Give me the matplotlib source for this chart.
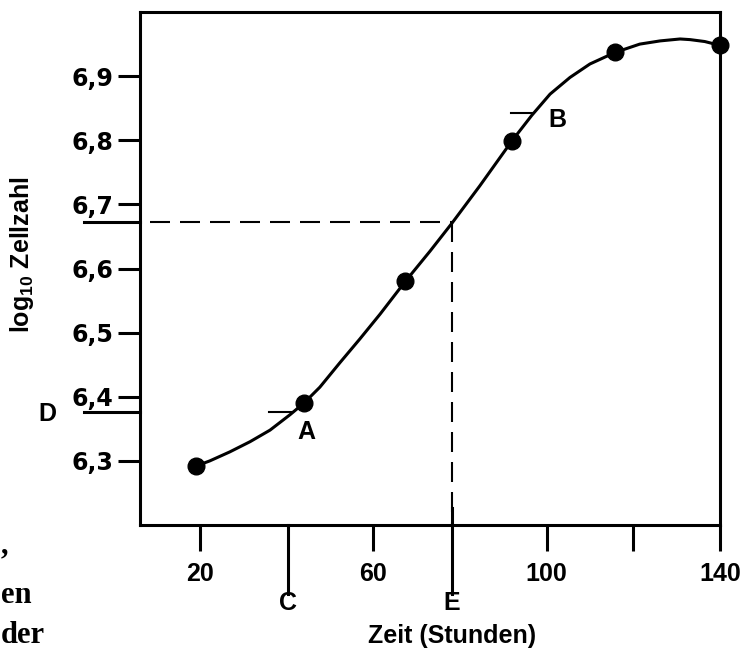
import matplotlib
matplotlib.use('Agg')
import matplotlib.pyplot as plt

plt.rcParams['font.family'] = ['Liberation Sans', 'DejaVu Sans']
plt.rcParams['font.weight'] = 'bold'
plt.rcParams['mathtext.fontset'] = 'custom'
plt.rcParams['mathtext.rm'] = 'Liberation Sans:bold'
plt.rcParams['mathtext.it'] = 'Liberation Sans:bold'
plt.rcParams['mathtext.bf'] = 'Liberation Sans:bold'

# Measured points (time in hours, log10 cell count)
time_pts = [19.1, 44.0, 67.3, 92.0, 115.8, 140.0]
log_pts = [6.292, 6.390, 6.580, 6.799, 6.937, 6.948]

# Smooth growth curve
curve_t = [19.1, 22.3, 26.9, 31.6, 36.2, 40.8, 44.0, 47.7, 52.3, 56.9, 61.6, 67.3,
           73.1, 78.2, 84.6, 92.0, 96.6, 100.8, 105.4, 110.0, 115.8, 121.5, 126.2,
           130.8, 133.1, 136.5, 140.0]
curve_log = [6.292, 6.300, 6.314, 6.330, 6.348, 6.372, 6.390, 6.415, 6.453, 6.490,
             6.529, 6.579, 6.627, 6.671, 6.729, 6.799, 6.839, 6.872, 6.898, 6.919,
             6.937, 6.950, 6.955, 6.958, 6.957, 6.954, 6.948]

xticks = [20, 60, 100, 120, 140]
xticklabels = ['20', '60', '100', '', '140']
yticks = [6.3, 6.4, 6.5, 6.6, 6.7, 6.8, 6.9]
yticklabels = ['6,3', '6,4', '6,5', '6,6', '6,7', '6,8', '6,9']

# Marked positions
t_c, t_e = 40.3, 78.2
log_d, log_e = 6.377, 6.672
a_tick = [35.9, 41.5]
b_tick = [91.8, 96.6]
log_b = 6.842

fig = plt.figure(figsize=(7.45, 6.51), dpi=100)
ax = fig.add_axes([0.1879, 0.1935, 0.7785, 0.7880])
ax.set_xlim(6.2, 140)
ax.set_ylim(6.2, 7.0)

ax.plot(curve_t, curve_log, color='black', lw=2.2, zorder=3, clip_on=False,
        solid_joinstyle='round')
ax.plot(time_pts, log_pts, 'o', color='black', ms=12, zorder=4, clip_on=False)

# dashed guide lines to E
dash = (0, (9.6, 4.8))
ax.plot([8.5, t_e], [log_e, log_e], color='black', lw=1.5, linestyle=dash)
ax.plot([t_e, t_e], [log_e, 6.2], color='black', lw=1.5, linestyle=dash)

# small A and B markers
ax.plot(a_tick, [log_d, log_d], color='black', lw=1.5)
ax.plot(b_tick, [log_b, log_b], color='black', lw=1.5)
ax.text(44.7, 6.345, 'A', fontsize=18, ha='center', va='center')
ax.text(102.6, 6.832, 'B', fontsize=18, ha='center', va='center')

ax.set_xticks(xticks)
ax.set_xticklabels(xticklabels)
ax.set_yticks(yticks)
ax.set_yticklabels(yticklabels, family='DejaVu Sans', fontweight='bold')
ax.tick_params(axis='y', length=15.8, width=2.2, labelsize=17, pad=3.5)
ax.tick_params(axis='x', length=18.7, width=2.2, labelsize=18, pad=8)
for s in ax.spines.values():
    s.set_linewidth(2.2)

# long ticks C and E below the axis, D and E level lines left of it
xt = ax.get_xaxis_transform()
yt = ax.get_yaxis_transform()
ax.plot([t_c, t_c], [0, -0.1345], color='black', lw=2.2, transform=xt, clip_on=False)
ax.plot([t_e, t_e], [0.033, -0.1345], color='black', lw=2.2, transform=xt, clip_on=False)
ax.plot([-0.0966, 0], [log_e, log_e], color='black', lw=2.2, transform=yt, clip_on=False)
ax.plot([-0.0966, 0], [log_d, log_d], color='black', lw=2.2, transform=yt, clip_on=False)
ax.text(t_c, -0.152, 'C', fontsize=18, ha='center', va='center', transform=xt)
ax.text(t_e, -0.152, 'E', fontsize=18, ha='center', va='center', transform=xt)
ax.text(-0.160, log_d - 0.004, 'D', fontsize=18, ha='center', va='center', transform=yt)

fig.text(452 / 745, 1 - 636 / 651, 'Zeit (Stunden)', fontsize=18, ha='center', va='center')
fig.text(22 / 745, 1 - 255 / 651, 'log$_{10}$ Zellzahl', fontsize=18, rotation=90,
         ha='center', va='center')

# cut-off text of the surrounding page
serif = dict(family='Liberation Serif', fontsize=22, fontweight='bold')
fig.text(0.001, 1 - 553 / 651, ',', ha='left', va='baseline', **serif)
fig.text(0.001, 1 - 603 / 651, 'en', ha='left', va='baseline', **serif)
fig.text(0.001, 1 - 643 / 651, 'der', ha='left', va='baseline', **serif)

fig.savefig('out.png', dpi=100)
